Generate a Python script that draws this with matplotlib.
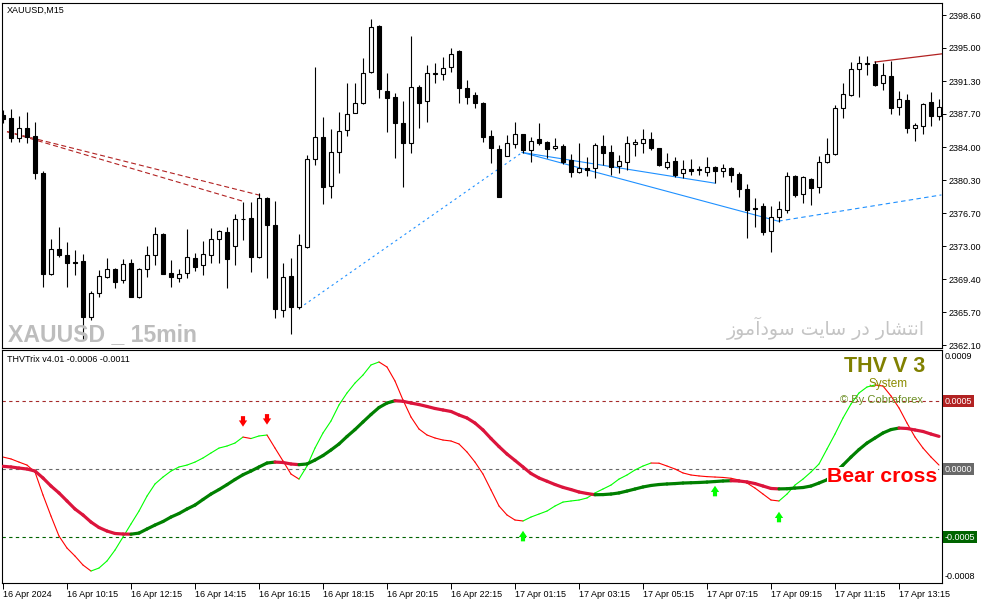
import matplotlib
matplotlib.use("Agg")
import matplotlib.pyplot as plt
import matplotlib.transforms as mtransforms
import numpy as np
from matplotlib.collections import LineCollection

plt.rcParams['font.family'] = ['Liberation Sans', 'DejaVu Sans']

# XAUUSD M15 candles, 16 Apr 08:15 .. 17 Apr 14:30
opens = [2387.5, 2387.2, 2385.0, 2386.1, 2385.2, 2381.1, 2370.0, 2372.7, 2372.1, 2371.3,
         2371.4, 2365.2, 2367.9, 2369.6, 2370.5, 2369.3, 2371.2, 2367.4, 2370.5, 2372.1,
         2374.4, 2370.1, 2369.5, 2370.1, 2371.7, 2371.0, 2372.1, 2373.8, 2374.6, 2373.1,
         2376.0, 2376.1, 2371.8, 2378.4, 2375.4, 2366.0, 2369.7, 2366.3, 2372.9, 2382.7,
         2385.1, 2379.7, 2383.4, 2385.9, 2387.8, 2388.9, 2392.3, 2397.4, 2390.2, 2389.5,
         2386.7, 2384.4, 2390.6, 2389.1, 2392.1, 2392.1, 2392.8, 2394.6, 2390.5, 2389.7,
         2388.9, 2385.2, 2383.8, 2383.0, 2384.3, 2385.4, 2383.7, 2384.9, 2384.6, 2383.9,
         2384.1, 2382.6, 2381.2, 2381.7, 2381.7, 2384.1, 2383.4, 2381.9, 2382.3, 2384.3,
         2384.4, 2384.9, 2383.9, 2381.8, 2382.5, 2381.1, 2381.6, 2381.5, 2381.2, 2381.8,
         2381.3, 2381.7, 2381.0, 2379.4, 2377.3, 2377.5, 2374.7, 2376.3, 2377.0, 2380.8,
         2378.8, 2380.5, 2379.6, 2382.3, 2383.2, 2388.3, 2389.7, 2392.6, 2393.3, 2393.2,
         2391.1, 2391.9, 2388.4, 2389.2, 2386.1, 2386.3, 2389.0, 2387.4]
highs = [2388.1, 2388.2, 2387.4, 2387.9, 2386.8, 2381.3, 2373.8, 2375.2, 2373.5, 2372.6,
         2372.2, 2368.1, 2370.4, 2371.7, 2370.6, 2371.6, 2371.6, 2370.6, 2373.0, 2375.2,
         2374.5, 2371.5, 2370.5, 2374.9, 2372.3, 2373.6, 2375.0, 2374.8, 2375.2, 2376.6,
         2377.9, 2377.9, 2378.9, 2378.5, 2378.0, 2371.2, 2371.7, 2374.4, 2383.1, 2392.8,
         2387.3, 2386.0, 2387.9, 2391.1, 2391.1, 2393.8, 2398.2, 2397.5, 2392.2, 2390.0,
         2389.1, 2396.3, 2390.9, 2393.1, 2393.3, 2394.0, 2395.0, 2394.7, 2391.4, 2390.1,
         2389.0, 2385.9, 2384.2, 2385.3, 2386.8, 2385.4, 2385.1, 2386.7, 2384.7, 2385.0,
         2384.3, 2383.2, 2384.4, 2382.9, 2384.4, 2385.3, 2384.2, 2383.1, 2385.2, 2384.9,
         2386.0, 2385.7, 2383.9, 2383.3, 2382.9, 2382.6, 2382.7, 2381.9, 2382.9, 2381.9,
         2382.1, 2381.8, 2381.2, 2379.9, 2378.4, 2377.8, 2377.5, 2378.0, 2381.2, 2380.9,
         2380.8, 2380.6, 2383.0, 2385.0, 2388.6, 2391.1, 2393.4, 2394.1, 2394.1, 2393.5,
         2393.3, 2393.5, 2390.2, 2389.9, 2386.7, 2388.9, 2390.1, 2389.3]
lows = [2386.7, 2384.6, 2384.6, 2384.4, 2380.5, 2368.5, 2369.8, 2371.8, 2368.5, 2369.8,
        2362.7, 2364.9, 2367.4, 2369.5, 2368.4, 2369.0, 2367.4, 2367.3, 2369.6, 2371.0,
        2370.0, 2368.5, 2369.1, 2369.5, 2370.3, 2369.8, 2371.2, 2371.2, 2368.4, 2371.0,
        2373.7, 2370.2, 2371.7, 2369.5, 2365.1, 2365.2, 2363.3, 2366.1, 2372.8, 2382.0,
        2377.7, 2378.4, 2381.1, 2385.2, 2387.8, 2388.8, 2392.2, 2389.4, 2385.7, 2382.8,
        2379.6, 2383.3, 2386.1, 2386.8, 2391.1, 2391.4, 2392.3, 2388.9, 2388.8, 2388.3,
        2384.6, 2382.2, 2378.5, 2383.0, 2383.9, 2383.3, 2382.3, 2384.2, 2382.8, 2383.7,
        2382.1, 2380.7, 2381.1, 2380.8, 2380.6, 2382.0, 2380.9, 2381.1, 2381.5, 2383.0,
        2383.3, 2383.7, 2381.9, 2381.6, 2380.7, 2380.6, 2380.9, 2380.9, 2380.8, 2380.0,
        2380.7, 2380.1, 2378.5, 2373.9, 2375.2, 2374.3, 2372.4, 2375.7, 2376.7, 2378.5,
        2377.8, 2377.6, 2378.9, 2382.2, 2383.1, 2387.2, 2389.6, 2389.5, 2392.0, 2390.7,
        2390.3, 2387.7, 2387.5, 2385.5, 2384.7, 2385.4, 2386.3, 2387.0]
closes = [2387.1, 2385.0, 2386.1, 2385.1, 2381.1, 2370.0, 2372.7, 2372.1, 2371.2, 2371.2,
          2365.2, 2367.9, 2369.7, 2370.5, 2369.1, 2371.1, 2367.4, 2370.5, 2372.1, 2374.4,
          2370.0, 2369.6, 2370.0, 2371.8, 2370.7, 2372.2, 2373.8, 2374.7, 2371.6, 2376.0,
          2376.0, 2371.8, 2378.4, 2375.4, 2366.1, 2369.6, 2366.3, 2373.2, 2382.7, 2385.1,
          2379.6, 2383.4, 2385.8, 2387.7, 2388.9, 2392.2, 2397.3, 2390.4, 2389.4, 2386.7,
          2384.4, 2390.6, 2388.9, 2392.2, 2392.1, 2392.7, 2394.3, 2390.5, 2389.5, 2388.9,
          2385.1, 2383.9, 2378.5, 2384.4, 2385.4, 2383.7, 2384.7, 2384.4, 2383.8, 2384.1,
          2382.3, 2381.2, 2381.7, 2381.5, 2384.2, 2383.3, 2381.8, 2382.5, 2384.4, 2384.6,
          2384.9, 2383.9, 2382.0, 2382.3, 2380.9, 2381.6, 2381.3, 2381.5, 2381.8, 2381.3,
          2381.7, 2380.9, 2379.4, 2377.0, 2377.1, 2374.6, 2376.3, 2377.1, 2380.8, 2378.7,
          2380.7, 2379.5, 2382.3, 2383.2, 2388.3, 2389.9, 2392.6, 2393.3, 2393.2, 2390.9,
          2392.0, 2388.3, 2389.3, 2386.1, 2386.4, 2388.8, 2387.4, 2388.4]

# THVTrix indicator (fast / slow), values
trix_fast = [0.000088, 0.000074, 0.000051, 0.000029, -0.000022, -0.000191, -0.000346, -0.000493, -0.000581, -0.000640,
             -0.000706, -0.000750, -0.000728, -0.000676, -0.000596, -0.000500, -0.000404, -0.000309, -0.000199, -0.000110,
             -0.000059, -0.000015, 0.000015, 0.000029, 0.000051, 0.000081, 0.000118, 0.000154, 0.000169, 0.000191,
             0.000235, 0.000224, 0.000243, 0.000250, 0.000154, 0.000059, -0.000037, -0.000074, 0.000022, 0.000154,
             0.000265, 0.000353, 0.000471, 0.000559, 0.000632, 0.000691, 0.000765, 0.000787, 0.000750, 0.000647,
             0.000507, 0.000382, 0.000294, 0.000250, 0.000228, 0.000213, 0.000206, 0.000184, 0.000125, 0.000051,
             -0.000037, -0.000154, -0.000272, -0.000338, -0.000375, -0.000382, -0.000353, -0.000331, -0.000309, -0.000272,
             -0.000243, -0.000235, -0.000228, -0.000213, -0.000176, -0.000147, -0.000118, -0.000074, -0.000044, -0.000007,
             0.000022, 0.000044, 0.000043, 0.000022, 0.000000, -0.000029, -0.000044, -0.000051, -0.000056, -0.000059,
             -0.000062, -0.000068, -0.000081, -0.000103, -0.000140, -0.000184, -0.000228, -0.000235, -0.000184, -0.000118,
             -0.000074, -0.000022, 0.000037, 0.000147, 0.000257, 0.000375, 0.000478, 0.000559, 0.000603, 0.000618,
             0.000610, 0.000537, 0.000449, 0.000338, 0.000235, 0.000154, 0.000088, 0.000029]
trix_slow = [0.000020, 0.000015, 0.000007, 0.000000, -0.000015, -0.000066, -0.000125, -0.000176, -0.000235, -0.000294,
             -0.000338, -0.000390, -0.000430, -0.000456, -0.000474, -0.000478, -0.000479, -0.000471, -0.000441, -0.000412,
             -0.000386, -0.000353, -0.000327, -0.000294, -0.000265, -0.000224, -0.000184, -0.000151, -0.000115, -0.000077,
             -0.000042, -0.000015, 0.000015, 0.000044, 0.000051, 0.000048, 0.000037, 0.000032, 0.000037, 0.000066,
             0.000099, 0.000140, 0.000184, 0.000239, 0.000290, 0.000346, 0.000401, 0.000452, 0.000485, 0.000502,
             0.000498, 0.000485, 0.000474, 0.000460, 0.000445, 0.000434, 0.000423, 0.000397, 0.000375, 0.000338,
             0.000287, 0.000224, 0.000165, 0.000110, 0.000063, 0.000015, -0.000033, -0.000066, -0.000090, -0.000114,
             -0.000135, -0.000151, -0.000169, -0.000180, -0.000189, -0.000188, -0.000184, -0.000176, -0.000162, -0.000147,
             -0.000132, -0.000121, -0.000114, -0.000110, -0.000107, -0.000103, -0.000101, -0.000099, -0.000096, -0.000092,
             -0.000088, -0.000086, -0.000088, -0.000095, -0.000107, -0.000125, -0.000143, -0.000146, -0.000145, -0.000140,
             -0.000136, -0.000125, -0.000103, -0.000079, -0.000026, 0.000029, 0.000088, 0.000143, 0.000191, 0.000228,
             0.000265, 0.000290, 0.000301, 0.000298, 0.000287, 0.000276, 0.000257, 0.000240]

# signal arrows (bar, value at arrow centre)
sell_bars = [30, 33]
sell_vals = [0.000350, 0.000365]
buy_bars = [65, 89, 97]
buy_vals = [-0.000493, -0.000162, -0.000353]

# trend lines (bar, price) start -> end
red_dash_lines = [((0.5, 2385.7), (32.4, 2378.6)), ((0.5, 2385.7), (30.0, 2378.0))]
blue_dot_line = ((37.1, 2366.2), (64.9, 2383.4))
blue_solid_lines = [((64.9, 2383.4), (89.0, 2380.0)), ((64.9, 2383.4), (96.9, 2375.8))]
blue_dash_line = ((96.9, 2375.8), (117.3, 2378.7))
red_solid_line = ((109.0, 2393.4), (117.3, 2394.3))

price_ticks = [2398.60, 2395.00, 2391.30, 2387.70, 2384.00, 2380.30, 2376.70, 2373.00, 2369.40, 2365.70, 2362.10]
time_labels = ["16 Apr 2024", "16 Apr 10:15", "16 Apr 12:15", "16 Apr 14:15", "16 Apr 16:15",
               "16 Apr 18:15", "16 Apr 20:15", "16 Apr 22:15", "17 Apr 01:15", "17 Apr 03:15",
               "17 Apr 05:15", "17 Apr 07:15", "17 Apr 09:15", "17 Apr 11:15", "17 Apr 13:15"]

W, H = 987, 605
fig = plt.figure(figsize=(W / 100, H / 100), dpi=100)
fig.patch.set_facecolor('white')
ax = fig.add_axes([2 / W, 1 - 348 / H, 940 / W, 345 / H])
ax2 = fig.add_axes([2 / W, 1 - 583 / H, 940 / W, 233 / H])

n = len(opens)
idx = np.arange(n)
o = np.array(opens)
c = np.array(closes)

# candles
ax.vlines(idx, lows, highs, color='black', lw=0.8, zorder=2)
bull = c >= o
body_h = np.maximum(np.abs(c - o), 0.04)
ax.bar(idx, body_h, bottom=np.minimum(o, c), width=0.62,
       color=np.where(bull, 'white', 'black'), edgecolor='black', linewidth=0.8, zorder=3)

def seg(a, b, **kw):
    ax.plot([a[0], b[0]], [a[1], b[1]], **kw)

for s, e in red_dash_lines:
    seg(s, e, color='#B22222', lw=0.8, ls=(0, (4.5, 2.7)), zorder=1)
seg(*blue_dot_line, color='#1E90FF', lw=0.8, ls=(0, (2, 3)), zorder=1)
for s, e in blue_solid_lines:
    seg(s, e, color='#1E90FF', lw=0.8, zorder=1)
seg(*blue_dash_line, color='#1E90FF', lw=0.8, ls=(0, (4, 3)), zorder=1)
seg(*red_solid_line, color='#B22222', lw=0.9, zorder=1)

ax.set_xlim(-0.125, 117.375)
ax.set_ylim(2361.77, 2399.93)
ax.set_xticks([])
ax.yaxis.tick_right()
ax.set_yticks(price_ticks)
ax.set_yticklabels(['%.2f' % p for p in price_ticks])
ax.tick_params(axis='y', labelsize=6.5, length=3, width=0.7, pad=2)
for sp in ax.spines.values():
    sp.set_linewidth(0.8)

ax.text(0.005, 0.98, 'XAUUSD,M15', transform=ax.transAxes, fontsize=6.5, va='center', ha='left')
ax.text(0.0064, 0.02, 'XAUUSD _ 15min', transform=ax.transAxes, fontsize=16.6,
        family=['Liberation Sans Narrow', 'Liberation Sans'], fontweight='bold',
        color='#BDBDBD', va='baseline', ha='left')
persian = ('\uFEAF\uFEEE\uFEE3\uFE81\uFEA9\uFEEE\uFEB3 \uFE96\uFEF3\uFE8E\uFEB3 '
           '\uFEAD\uFEA9 \uFEAD\uFE8E\uFEB8\uFE98\uFEE7\uFE8D')
ax.text(0.982, 0.058, persian, transform=ax.transAxes, fontsize=13.6, family=['DejaVu Sans'],
        color='#C4C4C4', va='center', ha='right')

# indicator panel
def slope_line(axis, y, up, down, lw, z):
    y = np.asarray(y)
    pts = np.column_stack([idx, y])
    segs = np.stack([pts[:-1], pts[1:]], axis=1)
    cols = [up if b >= a else down for a, b in zip(y[:-1], y[1:])]
    axis.add_collection(LineCollection(segs, colors=cols, linewidths=lw,
                                       capstyle='round', zorder=z))

ax2.axhline(0.0005, color='#A52A2A', lw=0.8, ls=(0, (3, 3)), zorder=1)
ax2.axhline(0.0, color='#696969', lw=0.8, ls=(0, (3, 3)), zorder=1)
ax2.axhline(-0.0005, color='#006400', lw=0.8, ls=(0, (3, 3)), zorder=1)
slope_line(ax2, trix_fast, '#00FF00', '#FF0000', 0.8, 2)
slope_line(ax2, trix_slow, '#008000', '#DC143C', 2.3, 3)

arrow_style = 'simple,head_length=0.45,head_width=0.6,tail_width=0.3'
head_dn = mtransforms.offset_copy(ax2.transData, fig=fig, y=-3.8, units='points')
head_up = mtransforms.offset_copy(ax2.transData, fig=fig, y=3.8, units='points')
for b, v in zip(sell_bars, sell_vals):
    ax2.annotate('', xy=(b, v), xycoords=head_dn, xytext=(0, 7.6), textcoords='offset points',
                 arrowprops=dict(arrowstyle=arrow_style, color='#FF0000', lw=0,
                                 shrinkA=0, shrinkB=0), zorder=4)
for b, v in zip(buy_bars, buy_vals):
    ax2.annotate('', xy=(b, v), xycoords=head_up, xytext=(0, -7.6), textcoords='offset points',
                 arrowprops=dict(arrowstyle=arrow_style, color='#00FF00', lw=0,
                                 shrinkA=0, shrinkB=0), zorder=4)

ax2.set_xlim(-0.125, 117.375)
ax2.set_ylim(-0.000838, 0.000875)
ax2.set_yticks([])
ax2.set_xticks(range(0, 8 * len(time_labels), 8))
ax2.set_xticklabels(time_labels, ha='left')
ax2.tick_params(axis='x', labelsize=6.5, length=4, width=0.7, pad=1)
for sp in ax2.spines.values():
    sp.set_linewidth(0.8)

ax2.text(0.005, 0.961, 'THVTrix v4.01 -0.0006 -0.0011', transform=ax2.transAxes,
         fontsize=6.5, va='center', ha='left')
ax2.text(0.939, 0.931, 'THV V 3', transform=ax2.transAxes, fontsize=15.5,
         fontweight='bold', color='#808000', ha='center', va='center', zorder=5)
ax2.text(0.943, 0.854, 'System', transform=ax2.transAxes, fontsize=8.5,
         color='#8B8B00', ha='center', va='center', zorder=5)
ax2.text(0.936, 0.785, '\u00a9 By Cobraforex', transform=ax2.transAxes, fontsize=8,
         color='#6B8E23', ha='center', va='center', zorder=5)
ax2.text(0.878, 0.459, 'Bear cross', transform=ax2.transAxes, fontsize=15.3,
         fontweight='bold', color='#FF0000', ha='left', va='center', zorder=5,
         bbox=dict(facecolor='white', edgecolor='none', pad=0))

tr = ax2.transAxes
ax2.text(1.003, 0.97, '0.0009', transform=tr, fontsize=6.5, va='center', ha='left')
ax2.text(1.003, 0.026, '-0.0008', transform=tr, fontsize=6.5, va='center', ha='left')
trd = mtransforms.blended_transform_factory(ax2.transAxes, ax2.transData)
for val, txt, bg in [(0.0005, '0.0005', '#B22222'), (0.0, '0.0000', '#696969'),
                     (-0.0005, '-0.0005', '#006400')]:
    ax2.text(1.003, val, txt, transform=trd, fontsize=6.5, color='white', va='center', ha='left',
             bbox=dict(facecolor=bg, edgecolor='none', pad=1.2))

fig.savefig('out.png', dpi=100)
